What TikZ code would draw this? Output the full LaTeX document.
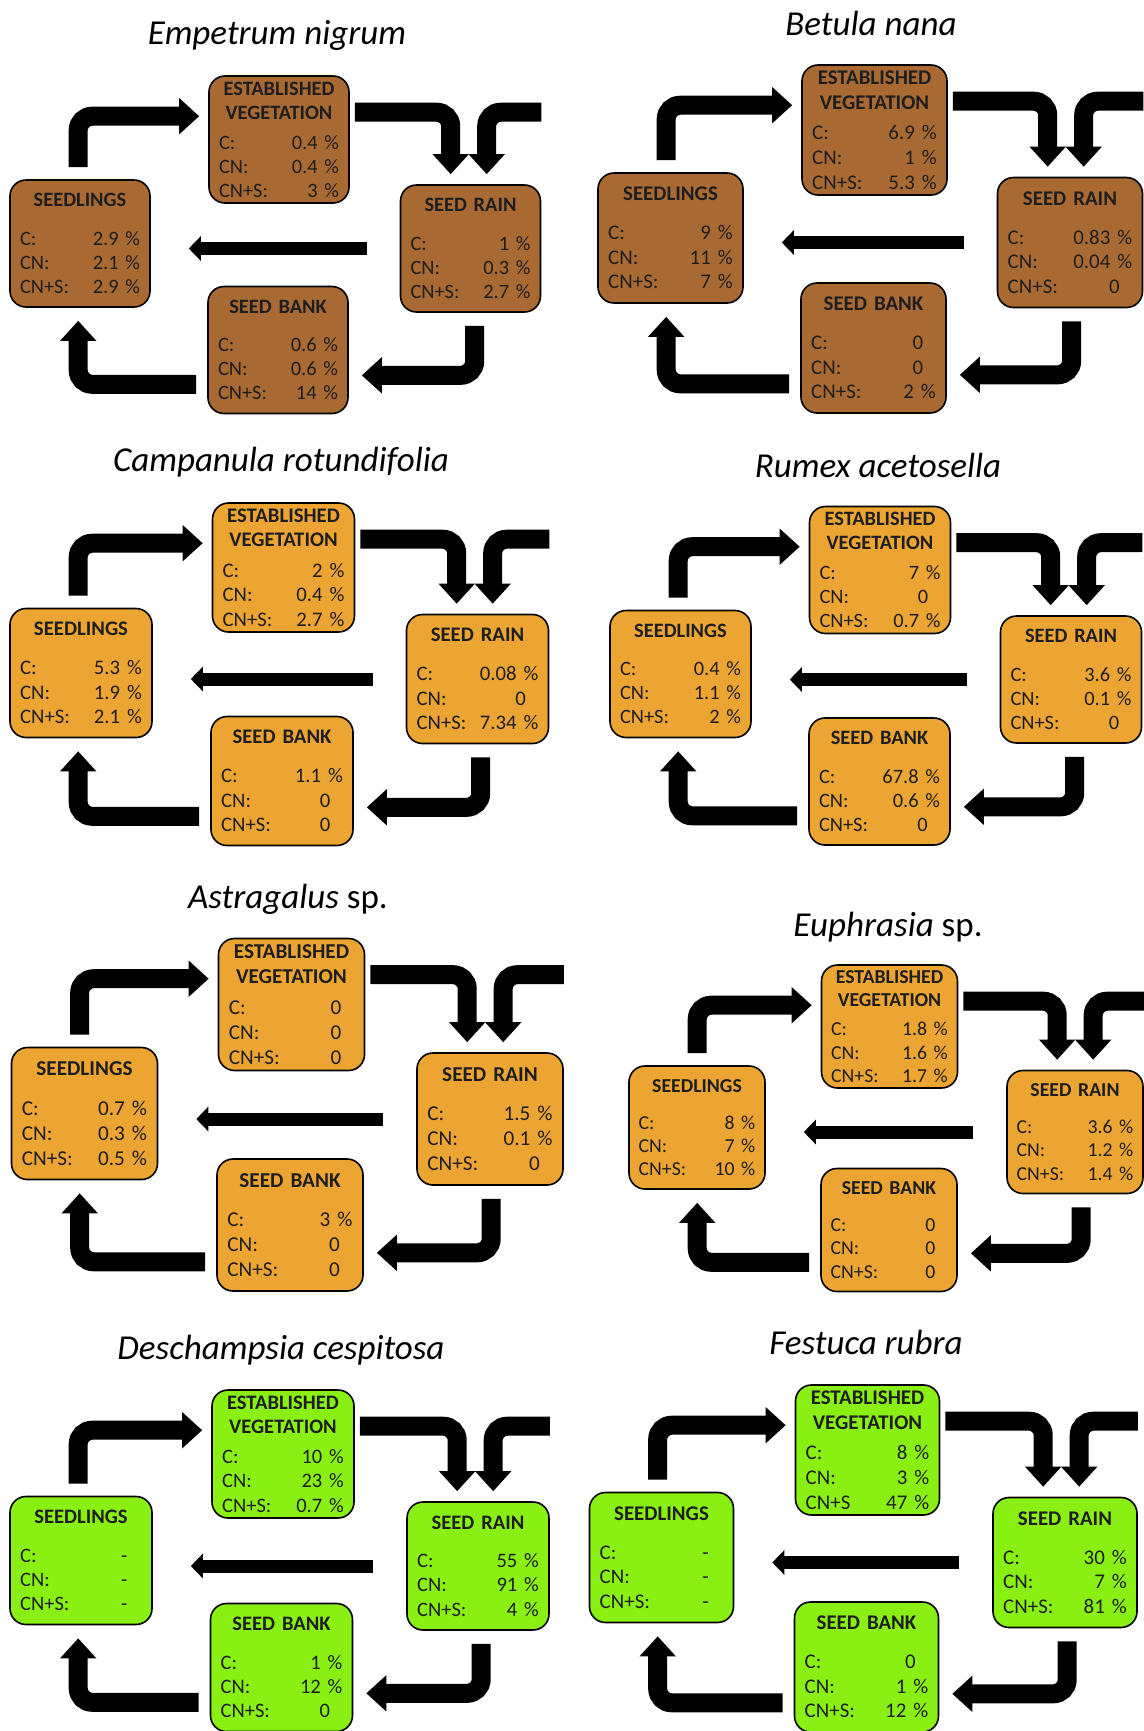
\documentclass[tikz,border=0pt]{standalone}
\usepackage{fontspec}
\setmainfont{Carlito}
\usetikzlibrary{arrows.meta,calc}
\definecolor{brownc}{RGB}{168,106,50}
\definecolor{orangec}{RGB}{236,165,50}
\definecolor{greenc}{RGB}{138,240,20}
\definecolor{textc}{RGB}{30,30,30}
\newcommand\dline[2]{\leavevmode\hbox to\linewidth{#1\hfill#2}}
\newcommand\zr{0\hspace{0.6em}}
\newcommand\ds{-\hspace{0.7em}}
\newcommand\lthree{CN+S:}
\newcommand\evbody[3]{\textbf{ESTABLISHED}\\\textbf{VEGETATION}\\[0.3em]\dline{C:}{#1}\\\dline{CN:}{#2}\\\dline{\lthree}{#3}}
\newcommand\bxbody[4]{\textbf{#1}\\[0.7em]\dline{C:}{#2}\\\dline{CN:}{#3}\\\dline{CN+S:}{#4}}
\newcommand\pz[2]{\pgfmathsetmacro\bw{#1/2}\pgfmathsetmacro\bh{#2/2}\pgfmathsetmacro\tw{\bw-10*#2/127}\pgfmathsetmacro\fs{10.2*#2/127}\pgfmathsetmacro\fsb{12*#2/127}}
\tikzset{
  boxst/.style={draw=black, line width=0.8pt, rounded corners=8pt, minimum width=\bw pt, minimum height=\bh pt, text width=\tw pt, inner sep=0pt, align=center, font=\fontsize{\fs pt}{\fsb pt}\selectfont, text=textc},
  ttl/.style={font=\fontsize{17.5pt}{21pt}\selectfont, inner sep=0pt},
  bentarr/.style={line width=9.5pt, -{Triangle[width=17.5pt,length=10pt]}, rounded corners=7pt},
  strarr/.style={line width=6.5pt, -{Triangle[width=12pt,length=6pt]}},
}
\newcommand\cyc[1]{%
 \draw[bentarr] ($(#1sd.north west)+(69,-12)$) |- ($(#1ev.north west)+(-9,41)$);
 \draw[bentarr] ($(#1ev.north east)+(5,37)$) -| ($(#1sr.north west)+(51,-10)$);
 \draw[bentarr] ($(#1sr.east |- #1ev.north)+(0,37)$) -| ($(#1sr.north west)+(87,-10)$);
 \draw[strarr] ($(#1sr.west)+(-33,0)$) -- ($(#1sd.east |- #1sr.west)+(38,0)$);
 \draw[bentarr] ($(#1sr.south west)+(75,13)$) |- ($(#1sb.south east)+(13,-39)$);
 \draw[bentarr] ($(#1sb.south west)+(-11,-30)$) -| ($(#1sd.south west)+(69,13)$);
}
\begin{document}
\begin{tikzpicture}[x=0.5pt,y=-0.5pt]
\fill[white] (0,0) rectangle (1144,1731);
\path[use as bounding box] (0,0) rectangle (1144,1731);

% Panel 1: Empetrum nigrum
\pz{140}{127}
\node[boxst, fill=brownc] (p1ev) at (279,139.5) {\evbody{0.4 \%}{0.4 \%}{3 \%}};
\node[boxst, fill=brownc] (p1sd) at (80,243.5) {\bxbody{SEEDLINGS}{2.9 \%}{2.1 \%}{2.9 \%}};
\node[boxst, fill=brownc] (p1sr) at (470.5,248.5) {\bxbody{SEED RAIN}{1 \%}{0.3 \%}{2.7 \%}};
\node[boxst, fill=brownc] (p1sb) at (278,350) {\bxbody{SEED BANK}{0.6 \%}{0.6 \%}{14 \%}};
\node[ttl] (p1t) at (277,35) {\textit{Empetrum nigrum}};
\cyc{p1}

% Panel 2: Betula nana
\pz{145}{130}
\node[boxst, fill=brownc] (p2ev) at (874.5,130) {\evbody{6.9 \%}{1 \%}{5.3 \%}};
\node[boxst, fill=brownc] (p2sd) at (670.5,238) {\bxbody{SEEDLINGS}{9 \%}{11 \%}{7 \%}};
\node[boxst, fill=brownc] (p2sr) at (1070,242.5) {\bxbody{SEED RAIN}{0.83 \%}{0.04 \%}{\zr}};
\node[boxst, fill=brownc] (p2sb) at (873.5,348) {\bxbody{SEED BANK}{\zr}{\zr}{2 \%}};
\node[ttl] (p2t) at (871,23) {\textit{Betula nana}};
\cyc{p2}

% Panel 3: Campanula rotundifolia
\pz{142}{129}
\node[boxst, fill=orangec] (p3ev) at (283.5,567.5) {\evbody{2 \%}{0.4 \%}{2.7 \%}};
\node[boxst, fill=orangec] (p3sd) at (81,673) {\bxbody{SEEDLINGS}{5.3 \%}{1.9 \%}{2.1 \%}};
\node[boxst, fill=orangec] (p3sr) at (477.5,679) {\bxbody{SEED RAIN}{0.08 \%}{\zr}{7.34 \%}};
\node[boxst, fill=orangec] (p3sb) at (282,781) {\bxbody{SEED BANK}{1.1 \%}{\zr}{\zr}};
\node[ttl] (p3t) at (281,462) {\textit{Campanula rotundifolia}};
\cyc{p3}

% Panel 4: Rumex acetosella
\pz{141}{127}
\node[boxst, fill=orangec] (p4ev) at (880,570) {\evbody{7 \%}{\zr}{0.7 \%}};
\node[boxst, fill=orangec] (p4sd) at (680.5,674) {\bxbody{SEEDLINGS}{0.4 \%}{1.1 \%}{2 \%}};
\node[boxst, fill=orangec] (p4sr) at (1071,679.5) {\bxbody{SEED RAIN}{3.6 \%}{0.1 \%}{\zr}};
\node[boxst, fill=orangec] (p4sb) at (879.5,781.5) {\bxbody{SEED BANK}{67.8 \%}{0.6 \%}{\zr}};
\node[ttl] (p4t) at (878,465) {\textit{Rumex acetosella}};
\cyc{p4}

% Panel 5: Astragalus sp.
\pz{146}{132}
\node[boxst, fill=orangec] (p5ev) at (291.5,1004.5) {\evbody{\zr}{\zr}{\zr}};
\node[boxst, fill=orangec] (p5sd) at (84.5,1113.5) {\bxbody{SEEDLINGS}{0.7 \%}{0.3 \%}{0.5 \%}};
\node[boxst, fill=orangec] (p5sr) at (490,1119) {\bxbody{SEED RAIN}{1.5 \%}{0.1 \%}{\zr}};
\node[boxst, fill=orangec] (p5sb) at (290,1225) {\bxbody{SEED BANK}{3 \%}{\zr}{\zr}};
\node[ttl] (p5t) at (288,899) {\textit{Astragalus} sp.};
\cyc{p5}

% Panel 6: Euphrasia sp.
\pz{136}{123}
\node[boxst, fill=orangec] (p6ev) at (889.5,1026.5) {\evbody{1.8 \%}{1.6 \%}{1.7 \%}};
\node[boxst, fill=orangec] (p6sd) at (697,1127.5) {\bxbody{SEEDLINGS}{8 \%}{7 \%}{10 \%}};
\node[boxst, fill=orangec] (p6sr) at (1075,1132) {\bxbody{SEED RAIN}{3.6 \%}{1.2 \%}{1.4 \%}};
\node[boxst, fill=orangec] (p6sb) at (889,1230) {\bxbody{SEED BANK}{\zr}{\zr}{\zr}};
\node[ttl] (p6t) at (888,927) {\textit{Euphrasia} sp.};
\cyc{p6}

% Panel 7: Deschampsia cespitosa
\pz{142}{128}
\node[boxst, fill=greenc] (p7ev) at (283,1454) {\evbody{10 \%}{23 \%}{0.7 \%}};
\node[boxst, fill=greenc] (p7sd) at (81,1560.5) {\bxbody{SEEDLINGS}{\ds}{\ds}{\ds}};
\node[boxst, fill=greenc] (p7sr) at (478,1566) {\bxbody{SEED RAIN}{55 \%}{91 \%}{4 \%}};
\node[boxst, fill=greenc] (p7sb) at (281.5,1667.5) {\bxbody{SEED BANK}{1 \%}{12 \%}{\zr}};
\node[ttl] (p7t) at (281,1350) {\textit{Deschampsia cespitosa}};
\cyc{p7}

% Panel 8: Festuca rubra
\pz{144}{130}
\node[boxst, fill=greenc] (p8ev) at (867.5,1450) {\renewcommand\lthree{CN+S}\evbody{8 \%}{3 \%}{47 \%}};
\node[boxst, fill=greenc] (p8sd) at (661.5,1557.5) {\bxbody{SEEDLINGS}{\ds}{\ds}{\ds}};
\node[boxst, fill=greenc] (p8sr) at (1065,1562.5) {\bxbody{SEED RAIN}{30 \%}{7 \%}{81 \%}};
\node[boxst, fill=greenc] (p8sb) at (866.5,1667) {\bxbody{SEED BANK}{\zr}{1 \%}{12 \%}};
\node[ttl] (p8t) at (866,1342) {\textit{Festuca rubra}};
\cyc{p8}
\end{tikzpicture}
\end{document}
